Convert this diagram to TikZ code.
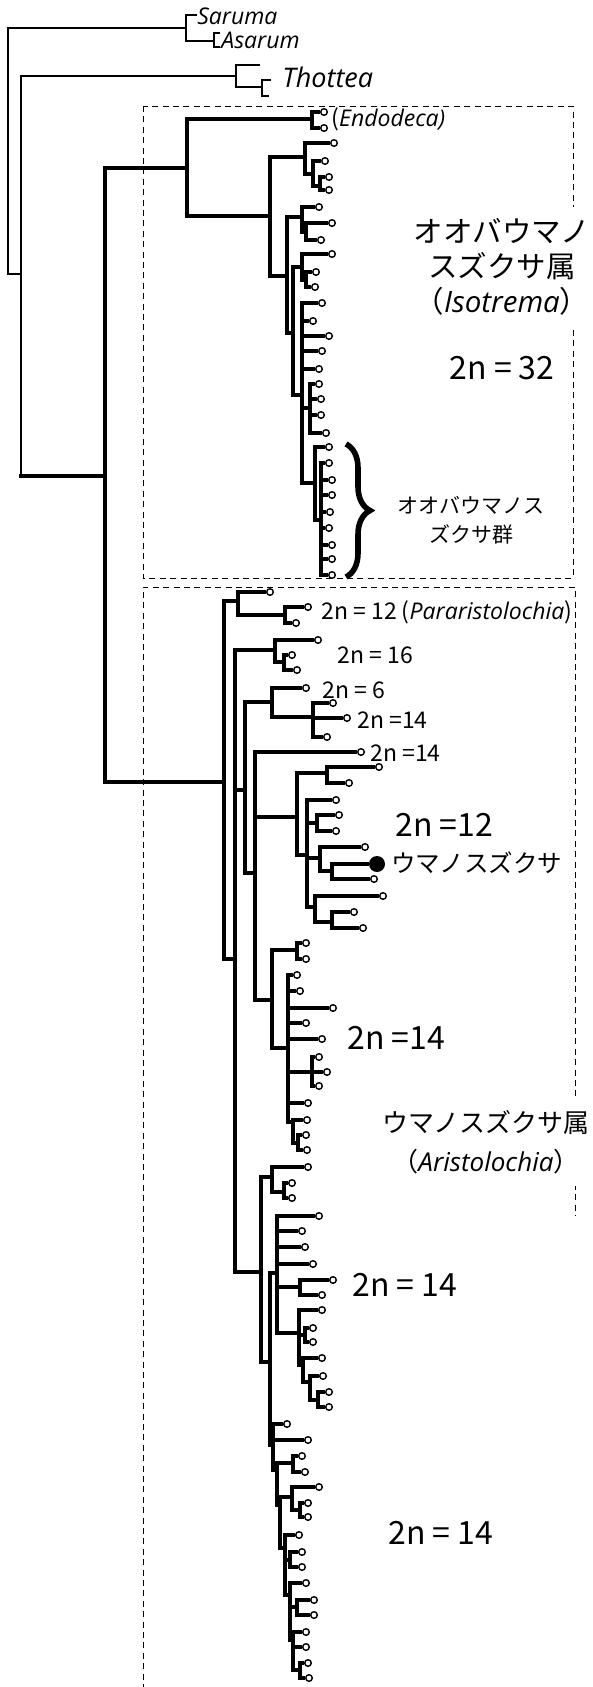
\documentclass[tikz,border=0pt]{standalone}
\usepackage{fontspec}
\setmainfont{Noto Sans CJK JP}
\newfontfamily\itf{Open Sans}
\usetikzlibrary{decorations.pathreplacing}
\tikzset{
  tk/.style={line width=1.6pt, line cap=rect},
  tn/.style={line width=0.6pt, line cap=rect},
  ring/.style={line width=0.7pt, fill=white},
  boxline/.style={line width=0.5pt, dash pattern=on 3pt off 2.2pt},
  small/.style={inner sep=0pt, font=\fontsize{11.5}{13}\selectfont},
  big/.style={inner sep=0pt, font=\fontsize{16}{18}\selectfont},
  ogl/.style={inner sep=0pt, font=\fontsize{11.5}{13}\selectfont}
}
\newcommand\nd[3]{\draw[tk] (#1,#2) -- (#1,#3);}
\newcommand\br[3]{\draw[tk] (#2,#1) -- (#3,#1);}
\newcommand\lf[3]{\draw[tk] (#1,#2) -- (#3-6,#2); \draw[ring] (#3,#2) circle[radius=1.65pt];}
\begin{document}
\begin{tikzpicture}[x=0.5pt,y=-0.5pt]
\useasboundingbox (0,0) rectangle (593,1687);
% dashed boxes
\draw[boxline] (143,106) rectangle (573,578);
\draw[boxline] (143,1690) -- (143,587) -- (575,587) -- (575,1216);
% outgroup
\draw[tn] (8,28) -- (8,274);
\draw[tn] (8,28) -- (186,28);
\draw[tn] (186,15) -- (186,41);
\draw[tn] (186,15) -- (196,15);
\draw[tn] (186,41) -- (214,41);
\draw[tn] (214,33) -- (214,47);
\draw[tn] (214,33) -- (219,33);
\draw[tn] (214,47) -- (219,47);
\draw[tn] (8,274) -- (21,274);
\draw[tn] (21,76) -- (21,476);
\draw[tn] (21,76) -- (236,76);
\draw[tn] (236,65) -- (236,87);
\draw[tn] (236,65) -- (259,65);
\draw[tn] (236,87) -- (262,87);
\draw[tn] (262,80) -- (262,96);
\draw[tn] (262,80) -- (270,80);
\draw[tn] (262,96) -- (268,96);
\br{476}{21}{105}
% Isotrema
\br{168}{105}{187}
\nd{105}{168}{782}
\nd{187}{119}{216}
\br{119}{187}{312}
\nd{312}{112}{128}
\lf{312}{112}{324} \lf{312}{128}{324}
\br{216}{187}{270}
\nd{270}{157}{276}
\br{157}{270}{305}
\nd{305}{143}{174}
\lf{305}{143}{334}
\br{174}{305}{313}
\nd{313}{161}{186}
\lf{313}{161}{325}
\br{186}{313}{320}
\nd{320}{177}{190}
\lf{320}{177}{329} \lf{320}{190}{329}
\br{276}{270}{287}
\nd{287}{217}{333}
\br{217}{287}{302}
\nd{302}{207}{232}
\lf{302}{207}{319}
\br{232}{302}{306}
\nd{306}{223}{240}
\lf{306}{223}{332} \lf{306}{240}{321}
\br{333}{287}{293}
\nd{293}{267}{395}
\br{267}{293}{302}
\nd{302}{254}{280}
\lf{302}{254}{332}
\br{280}{302}{306}
\nd{306}{272}{287}
\lf{306}{272}{316} \lf{306}{287}{315}
\br{395}{293}{302}
\nd{302}{303}{483}
\lf{302}{303}{322} \lf{302}{321}{313} \lf{302}{336}{329} \lf{302}{351}{322} \lf{302}{369}{319}
\br{408}{302}{310}
\nd{310}{384}{433}
\lf{310}{384}{319} \lf{310}{399}{321} \lf{310}{415}{321} \lf{310}{433}{326}
\br{483}{302}{315}
\nd{315}{447}{520}
\lf{315}{447}{329}
\br{520}{315}{321}
\nd{321}{463}{575}
\lf{321}{463}{329} \lf{321}{480}{332} \lf{321}{495}{332} \lf{321}{512}{330}
\lf{321}{528}{329} \lf{321}{545}{332} \lf{321}{559}{332} \lf{321}{575}{332}
% Aristolochia
\br{782}{105}{224}
\nd{224}{601}{959}
\br{601}{224}{238}
\nd{238}{592}{615}
\lf{238}{592}{270}
\br{615}{238}{285}
\nd{285}{607}{623}
\lf{285}{607}{308} \lf{285}{623}{296}
\br{959}{224}{235}
\nd{235}{650}{1272}
\br{650}{235}{275}
\nd{275}{640}{662}
\lf{275}{640}{318}
\br{662}{275}{284}
\nd{284}{655}{670}
\lf{284}{655}{292} \lf{284}{670}{297}
\br{790}{235}{245}
\nd{245}{702}{873}
\br{702}{245}{272}
\nd{272}{688}{717}
\lf{272}{688}{306}
\br{717}{272}{313}
\nd{313}{703}{737}
\lf{313}{703}{333} \lf{313}{718}{347} \lf{313}{737}{327}
\br{873}{245}{255}
\nd{255}{752}{1000}
\lf{255}{752}{361}
\br{817}{255}{297}
\nd{297}{773}{855}
\br{773}{297}{327}
\nd{327}{767}{783}
\lf{327}{767}{379} \lf{327}{783}{349}
\br{855}{297}{307}
\nd{307}{800}{907}
\lf{307}{800}{336}
\br{823}{307}{317}
\nd{317}{815}{831}
\lf{317}{815}{339} \lf{317}{831}{336}
\br{858}{307}{320}
\nd{320}{847}{871}
\lf{320}{847}{365}
\br{871}{320}{332}
\nd{332}{864}{879}
\br{864}{332}{367}
\fill (377,864) circle[radius=4pt];
\lf{332}{879}{374}
\br{907}{307}{315}
\nd{315}{896}{922}
\lf{315}{896}{383}
\br{922}{315}{332}
\nd{332}{912}{928}
\lf{332}{912}{354} \lf{332}{928}{363}
\br{1000}{255}{272}
\nd{272}{950}{1048}
\br{950}{272}{297}
\nd{297}{943}{959}
\lf{297}{943}{306} \lf{297}{959}{306}
\br{1048}{272}{288}
\nd{288}{975}{1122}
\lf{288}{975}{297} \lf{288}{991}{300} \lf{288}{1008}{333} \lf{288}{1023}{306} \lf{288}{1039}{322} \lf{288}{1103}{308}
\br{1072}{288}{312}
\nd{312}{1057}{1086}
\lf{312}{1057}{319} \lf{312}{1072}{327} \lf{312}{1086}{319}
\br{1122}{288}{293}
\nd{293}{1120}{1143}
\lf{293}{1120}{307}
\br{1143}{293}{298}
\nd{298}{1135}{1150}
\lf{298}{1135}{306} \lf{298}{1150}{307}
\br{1272}{235}{261}
\nd{261}{1177}{1362}
\br{1177}{261}{272}
\nd{272}{1167}{1192}
\lf{272}{1167}{308}
\br{1192}{272}{284}
\nd{284}{1183}{1198}
\lf{284}{1183}{292} \lf{284}{1198}{292}
\br{1362}{261}{270}
\nd{270}{1273}{1445}
\br{1273}{270}{277}
\nd{277}{1216}{1333}
\lf{277}{1216}{319} \lf{277}{1231}{302} \lf{277}{1247}{305} \lf{277}{1264}{313}
\br{1287}{277}{300}
\nd{300}{1280}{1295}
\lf{300}{1280}{333} \lf{300}{1295}{322}
\br{1333}{277}{299}
\nd{299}{1310}{1365}
\lf{299}{1310}{322}
\br{1335}{299}{305}
\nd{305}{1328}{1342}
\lf{305}{1328}{313} \lf{305}{1342}{313}
\br{1365}{299}{303}
\nd{303}{1358}{1382}
\lf{303}{1358}{322}
\br{1382}{303}{310}
\nd{310}{1376}{1400}
\lf{310}{1376}{323}
\br{1400}{310}{318}
\nd{318}{1392}{1407}
\lf{318}{1392}{329} \lf{318}{1407}{329}
\br{1445}{270}{273}
\nd{273}{1424}{1470}
\lf{273}{1424}{287} \lf{273}{1440}{308}
\br{1470}{273}{277}
\nd{277}{1463}{1505}
\br{1463}{277}{293}
\nd{293}{1456}{1472}
\lf{293}{1456}{302} \lf{293}{1472}{305}
\br{1505}{277}{280}
\nd{280}{1497}{1548}
\br{1497}{280}{292}
\nd{292}{1487}{1510}
\lf{292}{1487}{319}
\br{1510}{292}{300}
\nd{300}{1503}{1517}
\lf{300}{1503}{308} \lf{300}{1517}{308}
\br{1548}{280}{285}
\nd{285}{1535}{1595}
\lf{285}{1535}{299}
\br{1560}{285}{290}
\nd{290}{1552}{1567}
\lf{290}{1552}{302} \lf{290}{1567}{302}
\br{1595}{285}{290}
\nd{290}{1583}{1640}
\lf{290}{1583}{306}
\br{1607}{290}{297}
\nd{297}{1600}{1615}
\lf{297}{1600}{314} \lf{297}{1615}{314}
\br{1640}{290}{293}
\nd{293}{1632}{1670}
\lf{293}{1632}{306} \lf{293}{1647}{306}
\br{1670}{293}{300}
\nd{300}{1663}{1678}
\lf{300}{1663}{308} \lf{300}{1678}{309}
% brace
\draw[decorate, decoration={brace, amplitude=12pt}, line width=2.8pt] (346,444) -- (346,577);
% labels
\node[ogl, anchor=west] (sar) at (197,16) {\itf\itshape Saruma};
\node[ogl, anchor=west] (asa) at (221,40) {\itf\itshape Asarum};
\node[inner sep=0pt, font=\fontsize{13.5}{15}\selectfont, anchor=west] (tho) at (282,77) {\itf\itshape Thottea};
\node[small, anchor=west] (endo) at (331,119) {(\itf\itshape Endodeca\/)};
\node[inner xsep=2pt, inner ysep=6pt, fill=white, align=center, font=\fontsize{14.75}{17.5}\selectfont] (iso) at (502,267) {オオバウマノ\\スズクサ属\\（{\itf\itshape Isotrema}）};
\node[big] (n32) at (502,368) {2n = 32};
\node[inner sep=0pt, align=center, font=\fontsize{10.5}{14.5}\selectfont] (grp) at (471,520) {オオバウマノス\\ズクサ群};
\node[small, anchor=west] (l12) at (321,612) {2n = 12 ({\itf\itshape Pararistolochia\/})};
\node[small, anchor=west] (l16) at (337,655) {2n = 16};
\node[small, anchor=west] (l6) at (322,690) {2n = 6};
\node[small, anchor=west] (l14a) at (357,720) {2n =14};
\node[small, anchor=west] (l14b) at (370,753) {2n =14};
\node[big, anchor=west] (b12) at (395,825) {2n =12};
\node[inner sep=0pt, anchor=west, font=\fontsize{12.25}{14.5}\selectfont] (uma) at (391,863) {ウマノスズクサ};
\node[big, anchor=west] (b14a) at (347,1038) {2n =14};
\node[inner xsep=2pt, inner ysep=6pt, fill=white, align=center, font=\fontsize{13}{19.5}\selectfont] (ari) at (486,1142) {ウマノスズクサ属\\（{\itf\itshape Aristolochia}）};
\node[big, anchor=west] (b14b) at (352,1285) {2n = 14};
\node[big, anchor=west] (b14c) at (388,1533) {2n = 14};
\end{tikzpicture}
\end{document}
